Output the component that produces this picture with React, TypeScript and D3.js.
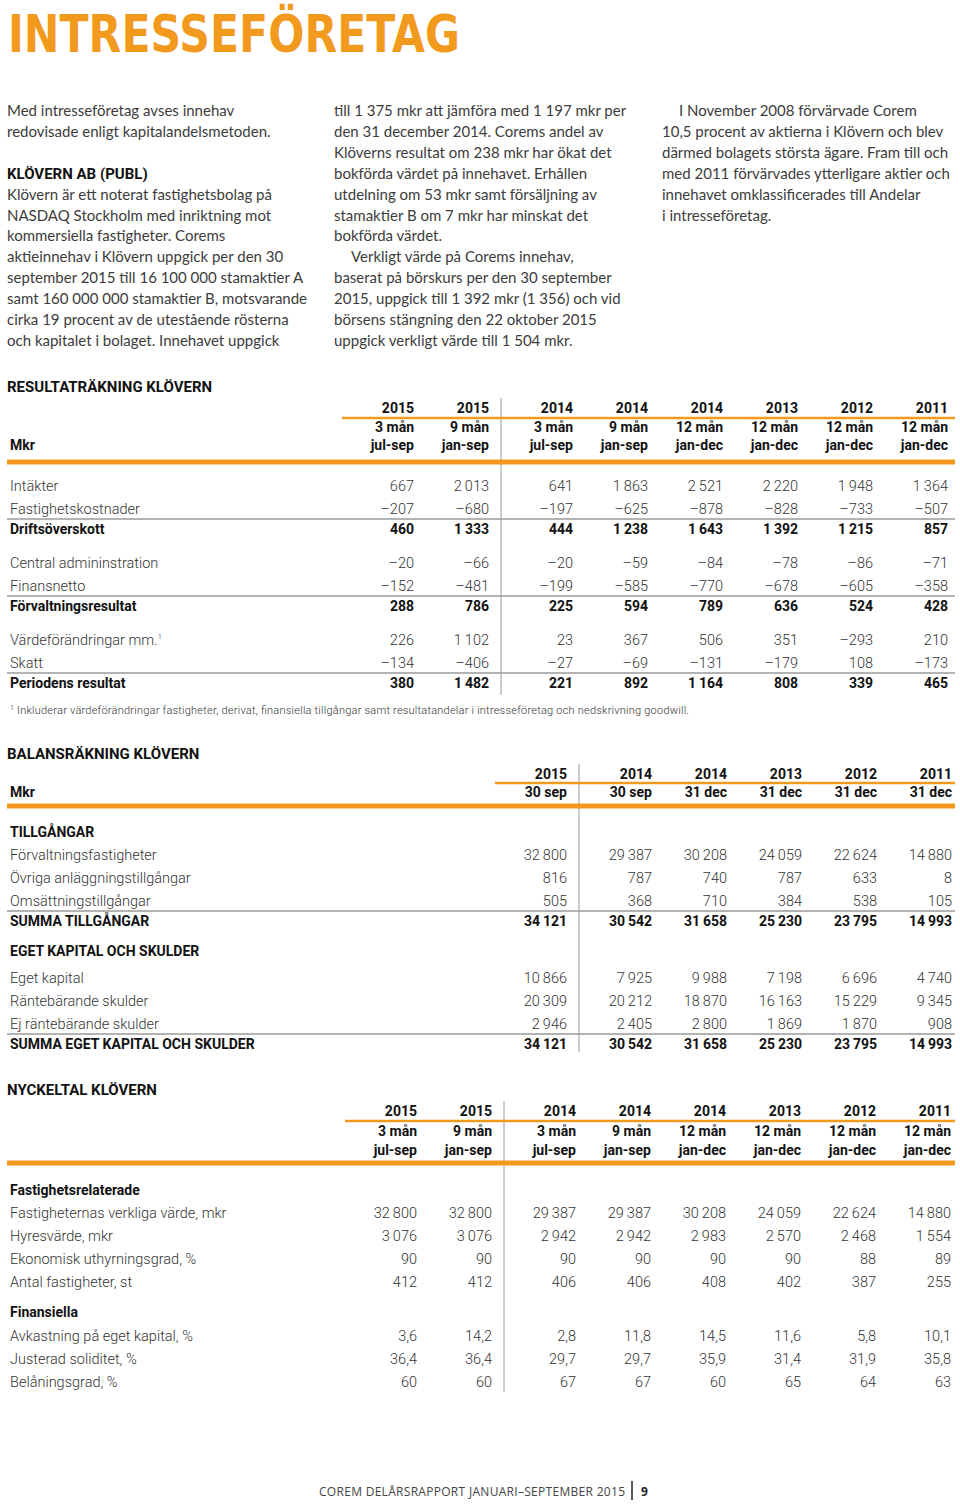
import React from "react";
import * as d3 from "d3";

const ORANGE = "#F29A1E";
const TEXT = "#333333";
const GRAY = "#9a9a9a";

// ---------- paragraph text ----------
const col1Lines = [
  "Med intresseföretag avses innehav",
  "redovisade enligt kapitalandelsmetoden.",
  "",
  "KLÖVERN AB (PUBL)",
  "Klövern är ett noterat fastighetsbolag på",
  "NASDAQ Stockholm med inriktning mot",
  "kommersiella fastigheter. Corems",
  "aktieinnehav i Klövern uppgick per den 30",
  "september 2015 till 16 100 000 stamaktier A",
  "samt 160 000 000 stamaktier B, motsvarande",
  "cirka 19 procent av de utestående rösterna",
  "och kapitalet i bolaget. Innehavet uppgick",
];
const col2Lines = [
  "till 1 375 mkr att jämföra med 1 197 mkr per",
  "den 31 december 2014. Corems andel av",
  "Klöverns resultat om 238 mkr har ökat det",
  "bokförda värdet på innehavet. Erhållen",
  "utdelning om 53 mkr samt försäljning av",
  "stamaktier B om 7 mkr har minskat det",
  "bokförda värdet.",
  "\tVerkligt värde på Corems innehav,",
  "baserat på börskurs per den 30 september",
  "2015, uppgick till 1 392 mkr (1 356) och vid",
  "börsens stängning den 22 oktober 2015",
  "uppgick verkligt värde till 1 504 mkr.",
];
const col3Lines = [
  "\tI November 2008 förvärvade Corem",
  "10,5 procent av aktierna i Klövern och blev",
  "därmed bolagets största ägare. Fram till och",
  "med 2011 förvärvades ytterligare aktier och",
  "innehavet omklassificerades till Andelar",
  "i intresseföretag.",
];

// ---------- Resultaträkning ----------
const resYears = ["2015", "2015", "2014", "2014", "2014", "2013", "2012", "2011"];
const resPeriods = ["3 mån", "9 mån", "3 mån", "9 mån", "12 mån", "12 mån", "12 mån", "12 mån"];
const resSpans = ["jul-sep", "jan-sep", "jul-sep", "jan-sep", "jan-dec", "jan-dec", "jan-dec", "jan-dec"];

const intakter = [667, 2013, 641, 1863, 2521, 2220, 1948, 1364];
const fastighetskostnader = [-207, -680, -197, -625, -878, -828, -733, -507];
const driftsoverskott = [460, 1333, 444, 1238, 1643, 1392, 1215, 857];
const centralAdministration = [-20, -66, -20, -59, -84, -78, -86, -71];
const finansnetto = [-152, -481, -199, -585, -770, -678, -605, -358];
const forvaltningsresultat = [288, 786, 225, 594, 789, 636, 524, 428];
const vardeforandringar = [226, 1102, 23, 367, 506, 351, -293, 210];
const skatt = [-134, -406, -27, -69, -131, -179, 108, -173];
const periodensResultat = [380, 1482, 221, 892, 1164, 808, 339, 465];

// ---------- Balansräkning ----------
const balYears = ["2015", "2014", "2014", "2013", "2012", "2011"];
const balDates = ["30 sep", "30 sep", "31 dec", "31 dec", "31 dec", "31 dec"];

const forvaltningsfastigheter = [32800, 29387, 30208, 24059, 22624, 14880];
const ovrigaAnlaggningstillgangar = [816, 787, 740, 787, 633, 8];
const omsattningstillgangar = [505, 368, 710, 384, 538, 105];
const summaTillgangar = [34121, 30542, 31658, 25230, 23795, 14993];
const egetKapital = [10866, 7925, 9988, 7198, 6696, 4740];
const rantebarandeSkulder = [20309, 20212, 18870, 16163, 15229, 9345];
const ejRantebarandeSkulder = [2946, 2405, 2800, 1869, 1870, 908];
const summaEgetKapitalSkulder = [34121, 30542, 31658, 25230, 23795, 14993];

// ---------- Nyckeltal ----------
const nyckYears = ["2015", "2015", "2014", "2014", "2014", "2013", "2012", "2011"];
const nyckPeriods = ["3 mån", "9 mån", "3 mån", "9 mån", "12 mån", "12 mån", "12 mån", "12 mån"];
const nyckSpans = ["jul-sep", "jan-sep", "jul-sep", "jan-sep", "jan-dec", "jan-dec", "jan-dec", "jan-dec"];

const verkligtVarde = [32800, 32800, 29387, 29387, 30208, 24059, 22624, 14880];
const hyresvarde = [3076, 3076, 2942, 2942, 2983, 2570, 2468, 1554];
const uthyrningsgrad = [90, 90, 90, 90, 90, 90, 88, 89];
const antalFastigheter = [412, 412, 406, 406, 408, 402, 387, 255];
const avkastningEgetKapital = [3.6, 14.2, 2.8, 11.8, 14.5, 11.6, 5.8, 10.1];
const justeradSoliditet = [36.4, 36.4, 29.7, 29.7, 35.9, 31.4, 31.9, 35.8];
const belaningsgrad = [60, 60, 67, 67, 60, 65, 64, 63];

// ---------- formatting ----------
const sv = d3.formatLocale({
  decimal: ",",
  thousands: "\u2009",
  grouping: [3],
  currency: ["", " kr"],
  minus: "\u2013",
});
const fmtInt = sv.format(",d");
const fmtDec = sv.format(",.1f");

type Row = {
  label: string;
  values?: number[];
  kind: "normal" | "total" | "heading";
  gapBefore?: boolean;
  fmt?: (v: number) => string;
  sup?: string;
};

const resRows: Row[] = [
  { label: "Intäkter", values: intakter, kind: "normal" },
  { label: "Fastighetskostnader", values: fastighetskostnader, kind: "normal" },
  { label: "Driftsöverskott", values: driftsoverskott, kind: "total" },
  { label: "Central admininstration", values: centralAdministration, kind: "normal", gapBefore: true },
  { label: "Finansnetto", values: finansnetto, kind: "normal" },
  { label: "Förvaltningsresultat", values: forvaltningsresultat, kind: "total" },
  { label: "Värdeförändringar mm.", sup: "1", values: vardeforandringar, kind: "normal", gapBefore: true },
  { label: "Skatt", values: skatt, kind: "normal" },
  { label: "Periodens resultat", values: periodensResultat, kind: "total" },
];

const balRows: Row[] = [
  { label: "TILLGÅNGAR", kind: "heading" },
  { label: "Förvaltningsfastigheter", values: forvaltningsfastigheter, kind: "normal" },
  { label: "Övriga anläggningstillgångar", values: ovrigaAnlaggningstillgangar, kind: "normal" },
  { label: "Omsättningstillgångar", values: omsattningstillgangar, kind: "normal" },
  { label: "SUMMA TILLGÅNGAR", values: summaTillgangar, kind: "total" },
  { label: "EGET KAPITAL OCH SKULDER", kind: "heading", gapBefore: true },
  { label: "Eget kapital", values: egetKapital, kind: "normal" },
  { label: "Räntebärande skulder", values: rantebarandeSkulder, kind: "normal" },
  { label: "Ej räntebärande skulder", values: ejRantebarandeSkulder, kind: "normal" },
  { label: "SUMMA EGET KAPITAL OCH SKULDER", values: summaEgetKapitalSkulder, kind: "total" },
];

const nyckRows: Row[] = [
  { label: "Fastighetsrelaterade", kind: "heading" },
  { label: "Fastigheternas verkliga värde, mkr", values: verkligtVarde, kind: "normal" },
  { label: "Hyresvärde, mkr", values: hyresvarde, kind: "normal" },
  { label: "Ekonomisk uthyrningsgrad, %", values: uthyrningsgrad, kind: "normal" },
  { label: "Antal fastigheter, st", values: antalFastigheter, kind: "normal" },
  { label: "Finansiella", kind: "heading", gapBefore: true },
  { label: "Avkastning på eget kapital, %", values: avkastningEgetKapital, kind: "normal", fmt: fmtDec },
  { label: "Justerad soliditet, %", values: justeradSoliditet, kind: "normal", fmt: fmtDec },
  { label: "Belåningsgrad, %", values: belaningsgrad, kind: "normal" },
];

const BODY_FONT = "Lato, 'Open Sans', sans-serif";
const TABLE_FONT = "Roboto, 'Noto Sans', sans-serif";

function colScale(n: number, first: number, step: number, gap: number, split: number) {
  const s = d3.scaleLinear().domain([0, n - 1]).range([first, first + step * (n - 1)]);
  return (i: number) => s(i) + (i >= split ? gap : 0);
}

function Paragraph({ lines, x, y0 }: { lines: string[]; x: number; y0: number }) {
  const y = d3.scaleLinear().domain([0, 1]).range([y0, y0 + 20.9]);
  return (
    <g>
      {lines.map((ln, i) => {
        if (!ln) return null;
        const indent = ln.startsWith("\t");
        const bold = ln === "KLÖVERN AB (PUBL)";
        return (
          <text
            key={i}
            x={x + (indent ? 17 : 0)}
            y={y(i)}
            fontFamily={bold ? TABLE_FONT : BODY_FONT}
            fontWeight={bold ? 700 : 400}
            fontSize={15}
            fill={bold ? "#111" : "#3c3c3c"}
          >
            {ln.replace("\t", "")}
          </text>
        );
      })}
    </g>
  );
}

type TableProps = {
  title: string;
  titleY: number;
  headers: string[][];
  headerY: number[];
  thinY: number;
  thickY: number;
  mkrY: number;
  x: (i: number) => number;
  n: number;
  split: number;
  rows: Row[];
  rowStart: number;
  sepEnd: number;
  firstAfterHeading: number[];
};

function Table(p: TableProps) {
  // row positions
  const ys: number[] = [];
  let y = p.rowStart;
  let headingCount = 0;
  p.rows.forEach((r, i) => {
    if (i > 0) {
      if (r.gapBefore) y += r.kind === "heading" ? 30 : 34;
      else if (r.kind === "total") y += 20;
      else if (p.rows[i - 1].kind === "heading") {
        y += p.firstAfterHeading[headingCount - 1] ?? 23;
      } else y += 23;
    }
    if (r.kind === "heading") headingCount++;
    ys.push(y);
  });
  const sepX = p.x(p.split - 1) + 12;
  const left = 7;
  const right = 955;
  return (
    <g>
      <text x={7} y={p.titleY} fontFamily={TABLE_FONT} fontWeight={700} fontSize={15} fill="#111">
        {p.title}
      </text>
      <line x1={sepX} x2={sepX} y1={p.headerY[0] - 15} y2={p.sepEnd} stroke={GRAY} strokeWidth={1} />
      <line x1={p.x(0) - 72} x2={right} y1={p.thinY} y2={p.thinY} stroke={ORANGE} strokeWidth={2.5} />
      <rect x={left} y={p.thickY - 2.5} width={right - left} height={5} fill={ORANGE} />
      {p.headers.map((h, hi) =>
        h.map((t, i) => (
          <text
            key={hi + "-" + i}
            x={p.x(i)}
            y={p.headerY[hi]}
            textAnchor="end"
            fontFamily={TABLE_FONT}
            fontWeight={700}
            fontSize={14}
            fill="#111"
          >
            {t}
          </text>
        ))
      )}
      {p.mkrY > 0 && (
        <text x={10} y={p.mkrY} fontFamily={TABLE_FONT} fontWeight={700} fontSize={14} fill="#111">
          Mkr
        </text>
      )}
      {p.rows.map((r, ri) => {
        const yy = ys[ri] + 5;
        const bold = r.kind !== "normal";
        const fmt = r.fmt || fmtInt;
        return (
          <g key={ri}>
            {r.kind === "total" && (
              <line x1={left} x2={right} y1={ys[ri] - 10} y2={ys[ri] - 10} stroke={GRAY} strokeWidth={1.5} />
            )}
            <text
              x={10}
              y={yy}
              fontFamily={TABLE_FONT}
              fontWeight={bold ? 700 : 300}
              fontSize={bold ? 14 : 14.5}
              fill={bold ? "#111" : TEXT}
            >
              {r.label}
              {r.sup && (
                <tspan fontSize={8} dy={-6}>
                  {r.sup}
                </tspan>
              )}
            </text>
            {r.values &&
              r.values.map((v, i) => (
                <text
                  key={i}
                  x={p.x(i)}
                  y={yy}
                  textAnchor="end"
                  fontFamily={TABLE_FONT}
                  fontWeight={bold ? 700 : 300}
                  fontSize={bold ? 14 : 14.5}
                  fill={bold ? "#111" : TEXT}
                >
                  {fmt(v)}
                </text>
              ))}
          </g>
        );
      })}
    </g>
  );
}

export default function App() {
  const resX = colScale(8, 414, 75, 9, 2);
  const balX = colScale(6, 567, 75, 10, 1);
  const nyckX = colScale(8, 417, 75, 9, 2);
  return (
    <svg
      width={960}
      height={1504}
      style={{ position: "absolute", left: 0, top: 0, background: "#fff" }}
    >
      <rect width={960} height={1504} fill="#fff" />
      <text
        x={8}
        y={52}
        fontFamily="'DejaVu Sans', sans-serif"
        fontWeight={700}
        fontSize={52}
        fill={ORANGE}
        textLength={452}
        lengthAdjust="spacingAndGlyphs"
      >
        INTRESSEFÖRETAG
      </text>

      <Paragraph lines={col1Lines} x={7} y0={116} />
      <Paragraph lines={col2Lines} x={334} y0={116} />
      <Paragraph lines={col3Lines} x={662} y0={116} />

      <Table
        title="RESULTATRÄKNING KLÖVERN"
        titleY={392}
        headers={[resYears, resPeriods, resSpans]}
        headerY={[413, 432, 450]}
        thinY={418}
        thickY={462}
        mkrY={450}
        x={resX}
        n={8}
        split={2}
        rows={resRows}
        rowStart={486}
        sepEnd={695}
        firstAfterHeading={[]}
      />
      <text
        x={10}
        y={714}
        fontFamily={TABLE_FONT}
        fontWeight={300}
        fontSize={11}
        fill={TEXT}
        textLength={679}
        lengthAdjust="spacing"
      >
        <tspan fontSize={7} dy={-4}>1</tspan>
        <tspan dy={4}> Inkluderar värdeförändringar fastigheter, derivat, finansiella tillgångar samt resultatandelar i intresseföretag och nedskrivning goodwill.</tspan>
      </text>

      <Table
        title="BALANSRÄKNING KLÖVERN"
        titleY={759}
        headers={[balYears, balDates]}
        headerY={[779, 797]}
        thinY={783}
        thickY={806}
        mkrY={797}
        x={balX}
        n={6}
        split={1}
        rows={balRows}
        rowStart={832}
        sepEnd={1052}
        firstAfterHeading={[23, 27]}
      />

      <Table
        title="NYCKELTAL KLÖVERN"
        titleY={1095}
        headers={[nyckYears, nyckPeriods, nyckSpans]}
        headerY={[1116, 1136, 1155]}
        thinY={1121}
        thickY={1163}
        mkrY={-100}
        x={nyckX}
        n={8}
        split={2}
        rows={nyckRows}
        rowStart={1190}
        sepEnd={1392}
        firstAfterHeading={[23, 24]}
      />

      <text
        x={319}
        y={1496}
        fontFamily="'Open Sans', sans-serif"
        fontSize={12}
        fill="#444"
        textLength={306}
        lengthAdjust="spacing"
      >
        COREM DELÅRSRAPPORT JANUARI–SEPTEMBER 2015
      </text>
      <line x1={632} x2={632} y1={1481} y2={1500} stroke="#222" strokeWidth={1.5} />
      <text x={641} y={1496} fontFamily="'Open Sans', sans-serif" fontWeight={700} fontSize={12} fill="#222">
        9
      </text>
    </svg>
  );
}
